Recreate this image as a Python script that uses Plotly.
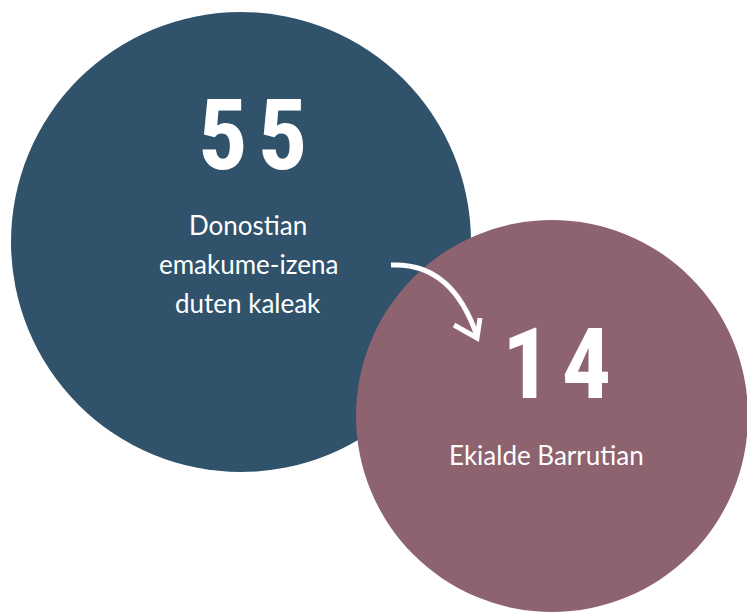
import plotly.graph_objects as go

# Data
values = [55, 14]
label_lines = [["Donostian", "emakume-izena", "duten kaleak"], ["Ekialde Barrutian"]]
colors = ["#30526B", "#8D636F"]
# circle geometry (center x, center y, radius) in pixel space
centers_x = [241, 552]
centers_y = [242, 416]
radii = [230, 196]

W, H = 747, 612
fig = go.Figure()

shapes = []
for cx, cy, r, c in zip(centers_x, centers_y, radii, colors):
    shapes.append(dict(type="circle", xref="x", yref="y", x0=cx - r, x1=cx + r,
                       y0=cy - r, y1=cy + r, fillcolor=c, line=dict(width=0), layer="below"))

# curved arrow
shapes.append(dict(type="path", xref="x", yref="y",
                   path="M 391 265 Q 452 262 477 336",
                   line=dict(color="white", width=5)))
shapes.append(dict(type="path", xref="x", yref="y",
                   path="M 454 325 L 477 338 L 480 318",
                   line=dict(color="white", width=5)))

annotations = []
num_pos = [(252, 135), (556, 364)]
lab_x = [248, 546]
lab_base = [[234, 273, 312], [464]]
for v, (x, y) in zip(values, num_pos):
    s = "\u200a".join(str(v))
    annotations.append(dict(x=x, y=y, xref="x", yref="y", text=s, showarrow=False,
                            font=dict(family="Liberation Sans Narrow, Roboto Condensed, DejaVu Sans Condensed, Roboto",
                                      size=98, color="white", weight="bold"),
                            xanchor="center", yanchor="middle"))
for lines, x, bases in zip(label_lines, lab_x, lab_base):
    for t, b in zip(lines, bases):
        annotations.append(dict(x=x, y=b - 9, xref="x", yref="y", text=t, showarrow=False,
                                font=dict(family="Lato", size=26, color="white"),
                                xanchor="center", yanchor="middle"))

fig.update_layout(
    width=W, height=H, margin=dict(l=0, r=0, t=0, b=0),
    paper_bgcolor="white", plot_bgcolor="white",
    xaxis=dict(range=[0, W], visible=False, fixedrange=True),
    yaxis=dict(range=[H, 0], visible=False, fixedrange=True),
    shapes=shapes, annotations=annotations, showlegend=False,
)
fig.add_trace(go.Scatter(x=[0], y=[0], mode="markers", marker=dict(opacity=0), hoverinfo="skip"))
post = ("document.body.style.margin='0';document.body.style.overflow='hidden';"
        "var st=document.createElement('style');st.textContent='text{font-variant-ligatures:none;}';"
        "document.head.appendChild(st);")
fig.write_html("out.html", config={"displayModeBar": False}, post_script=post)
